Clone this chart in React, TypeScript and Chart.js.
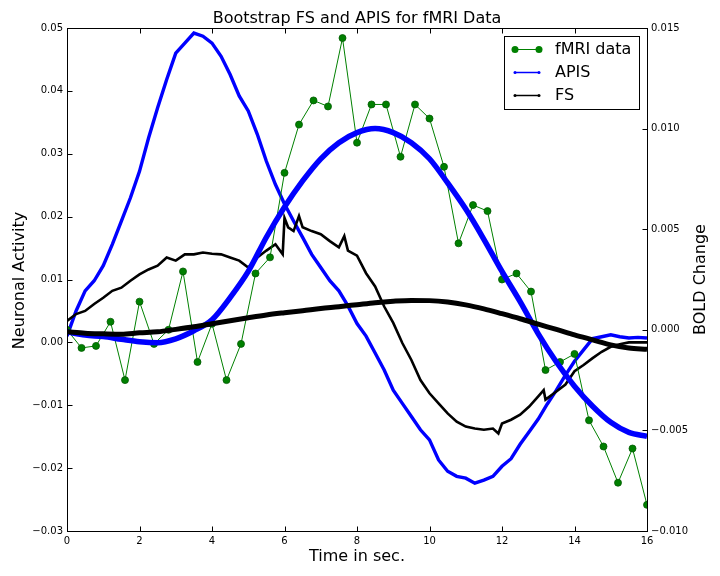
import React, { useEffect, useRef } from "react";
import { Chart, registerables } from "chart.js";

Chart.register(...registerables);

// ---- fMRI data (right axis, BOLD change) ----
const fmriTime = [0, 0.4, 0.8, 1.2, 1.6, 2.0, 2.4, 2.8, 3.2, 3.6, 4.0, 4.4, 4.8, 5.2, 5.6, 6.0, 6.4, 6.8, 7.2, 7.6, 8.0, 8.4, 8.8, 9.2, 9.6, 10.0, 10.4, 10.8, 11.2, 11.6, 12.0, 12.4, 12.8, 13.2, 13.6, 14.0, 14.4, 14.8, 15.2, 15.6, 16.0];
const fmriBold = [0.0000, -0.0009, -0.0008, 0.0004, -0.0025, 0.0014, -0.0007, 0.0000, 0.0029, -0.0016, 0.0003, -0.0025, -0.0007, 0.0028, 0.0036, 0.0078, 0.0102, 0.0114, 0.0111, 0.0145, 0.0093, 0.0112, 0.0112, 0.0086, 0.0112, 0.0105, 0.0081, 0.0043, 0.0062, 0.0059, 0.0025, 0.0028, 0.0019, -0.0020, -0.0016, -0.0012, -0.0045, -0.0058, -0.0076, -0.0059, -0.0087];

// ---- smooth fitted BOLD curves (right axis) ----
const boldTime = [0, 0.5, 1, 1.5, 2, 2.5, 3, 3.5, 4, 4.5, 5, 5.5, 6, 6.5, 7, 7.5, 8, 8.5, 9, 9.5, 10, 10.5, 11, 11.5, 12, 12.5, 13, 13.5, 14, 14.5, 15, 15.5, 16];
const apisBold = [-0.0001, -0.00026, -0.00034, -0.00047, -0.00059, -0.00064, -0.00045, -0.00005, 0.0005, 0.0016, 0.0029, 0.0046, 0.0061, 0.0074, 0.0085, 0.0093, 0.0098, 0.0100, 0.0098, 0.0093, 0.0085, 0.0073, 0.0060, 0.0045, 0.0029, 0.0014, -0.0002, -0.0016, -0.0028, -0.0038, -0.0046, -0.0051, -0.0053];
const fsBold = [-0.0001, -0.00017, -0.0002, -0.00022, -0.00015, -0.0001, 0.00002, 0.00015, 0.0003, 0.00045, 0.0006, 0.00074, 0.00085, 0.00095, 0.00106, 0.00115, 0.00125, 0.00135, 0.00142, 0.00146, 0.00145, 0.00138, 0.00124, 0.00104, 0.0008, 0.00055, 0.00028, 0.00002, -0.00025, -0.0005, -0.00075, -0.0009, -0.00097];

// ---- neuronal activity estimates (left axis) ----
const apisTime = [0, 0.25, 0.5, 0.75, 1, 1.25, 1.5, 1.75, 2, 2.25, 2.5, 2.75, 3, 3.25, 3.5, 3.75, 4, 4.25, 4.5, 4.75, 5, 5.25, 5.5, 5.75, 6, 6.25, 6.5, 6.75, 7, 7.25, 7.5, 7.75, 8, 8.25, 8.5, 8.75, 9, 9.25, 9.5, 9.75, 10, 10.25, 10.5, 10.75, 11, 11.25, 11.5, 11.75, 12, 12.25, 12.5, 12.75, 13, 13.25, 13.5, 13.75, 14, 14.25, 14.5, 14.75, 15, 15.25, 15.5, 15.75, 16];
const apisNeural = [0.001, 0.005, 0.0082, 0.0098, 0.0122, 0.0156, 0.0193, 0.023, 0.0272, 0.0325, 0.0373, 0.0418, 0.046, 0.0476, 0.0492, 0.0487, 0.0476, 0.0455, 0.0426, 0.0392, 0.0368, 0.0331, 0.0288, 0.0251, 0.022, 0.0193, 0.0167, 0.014, 0.0119, 0.0098, 0.0082, 0.0058, 0.003, 0.001, -0.0017, -0.0044, -0.0076, -0.0097, -0.0118, -0.0139, -0.0155, -0.0187, -0.0205, -0.0213, -0.0216, -0.0224, -0.0219, -0.0213, -0.0197, -0.0185, -0.0162, -0.0142, -0.0122, -0.0098, -0.0076, -0.0052, -0.003, -0.0012, 0.0006, 0.0009, 0.0012, 0.0009, 0.0007, 0.0008, 0.0007];

const fsTime = [0, 0.25, 0.5, 0.75, 1, 1.25, 1.5, 1.75, 2, 2.25, 2.5, 2.75, 3, 3.25, 3.5, 3.75, 4, 4.25, 4.5, 4.75, 5, 5.25, 5.5, 5.75, 5.95, 6.0, 6.1, 6.25, 6.4, 6.5, 6.75, 7, 7.25, 7.5, 7.65, 7.75, 8, 8.25, 8.5, 8.75, 9, 9.25, 9.5, 9.75, 10, 10.25, 10.5, 10.75, 11, 11.25, 11.5, 11.75, 11.9, 12, 12.25, 12.5, 12.75, 13, 13.15, 13.2, 13.5, 13.75, 14, 14.25, 14.5, 14.75, 15, 15.25, 15.5, 15.75, 16];
const fsNeural = [0.0034, 0.0045, 0.005, 0.0061, 0.0071, 0.0082, 0.0087, 0.0098, 0.0108, 0.0116, 0.0122, 0.0135, 0.013, 0.014, 0.014, 0.0143, 0.0141, 0.014, 0.0135, 0.013, 0.0119, 0.0135, 0.0146, 0.0156, 0.014, 0.0198, 0.0183, 0.0177, 0.0201, 0.0183, 0.0177, 0.0172, 0.0161, 0.0151, 0.0169, 0.0146, 0.0138, 0.011, 0.0089, 0.0057, 0.0031, -0.0001, -0.0028, -0.006, -0.0081, -0.0097, -0.0113, -0.0126, -0.0134, -0.0137, -0.0139, -0.0137, -0.0145, -0.0129, -0.0123, -0.0115, -0.0102, -0.0086, -0.0076, -0.0091, -0.0078, -0.0067, -0.0046, -0.0036, -0.0025, -0.0015, -0.0007, -0.0003, 0.0, 0.0, 0.0];

const xTicks = [0, 2, 4, 6, 8, 10, 12, 14, 16];

const TITLE = "Bootstrap FS and APIS for fMRI Data";
const X_LABEL = "Time in sec.";
const Y_LABEL = "Neuronal Activity";
const Y2_LABEL = "BOLD Change";
const LEGEND = ["fMRI data", "APIS", "FS"];

const FONT = '"DejaVu Sans", sans-serif';
const GREEN = "#008000";
const BLUE = "#0000ff";

const pts = (xs: number[], ys: number[]) => xs.map((x, i) => ({ x, y: ys[i] }));
const fmtNum = (v: number, d: number) => {
  const s = Math.abs(v) < 1e-12 ? (0).toFixed(d) : v.toFixed(d);
  return s.replace("-", "\u2212");
};

const decor = {
  id: "decor",
  afterDraw(chart: any) {
    const { ctx, chartArea: a, scales } = chart;
    ctx.save();
    ctx.strokeStyle = "#000";
    ctx.lineWidth = 1;
    const L = 5;
    const line = (x1: number, y1: number, x2: number, y2: number) => {
      ctx.beginPath();
      ctx.moveTo(x1, y1);
      ctx.lineTo(x2, y2);
      ctx.stroke();
    };
    const l = Math.round(a.left) + 0.5, r = Math.round(a.right) + 0.5;
    const t = Math.round(a.top) + 0.5, b = Math.round(a.bottom) + 0.5;
    ctx.strokeRect(l, t, r - l, b - t);
    scales.x.ticks.forEach((tk: any) => {
      const px = Math.round(scales.x.getPixelForValue(tk.value)) + 0.5;
      line(px, b, px, b - L);
      line(px, t, px, t + L);
    });
    scales.y.ticks.forEach((tk: any) => {
      const py = Math.round(scales.y.getPixelForValue(tk.value)) + 0.5;
      line(l, py, l + L, py);
    });
    scales.y1.ticks.forEach((tk: any) => {
      const py = Math.round(scales.y1.getPixelForValue(tk.value)) + 0.5;
      line(r, py, r - L, py);
    });

    // title and axis labels
    ctx.fillStyle = "#000";
    ctx.font = `16px ${FONT}`;
    ctx.textAlign = "center";
    ctx.textBaseline = "alphabetic";
    const cx = (a.left + a.right) / 2;
    const cy = (a.top + a.bottom) / 2;
    ctx.fillText(TITLE, cx, 22.5);
    ctx.fillText(X_LABEL, cx, 561);
    ctx.save();
    ctx.translate(24, cy + 1);
    ctx.rotate(-Math.PI / 2);
    ctx.fillText(Y_LABEL, 0, 0);
    ctx.restore();
    ctx.save();
    ctx.translate(705, cy);
    ctx.rotate(-Math.PI / 2);
    ctx.fillText(Y2_LABEL, 0, 0);
    ctx.restore();

    // legend
    const bx = 504.5, by = 36.5, bw = 135, bh = 73;
    ctx.fillStyle = "#fff";
    ctx.fillRect(bx, by, bw, bh);
    ctx.strokeStyle = "#000";
    ctx.strokeRect(bx, by, bw, bh);
    const rows = [49.5, 72.5, 95.5];
    const colors = [GREEN, BLUE, "#000"];
    const radii = [3.5, 1.5, 1.5];
    rows.forEach((ry, i) => {
      ctx.strokeStyle = colors[i];
      ctx.fillStyle = colors[i];
      ctx.lineWidth = i === 0 ? 1 : 1.5;
      line(515, ry, 539, ry);
      [515, 539].forEach((mx) => {
        ctx.beginPath();
        ctx.arc(mx, ry, radii[i], 0, Math.PI * 2);
        ctx.fill();
      });
      ctx.fillStyle = "#000";
      ctx.font = `16px ${FONT}`;
      ctx.textAlign = "left";
      ctx.textBaseline = "middle";
      ctx.fillText(LEGEND[i], 555, ry + 0.5);
    });
    ctx.restore();
  },
};

export default function App() {
  const ref = useRef<HTMLCanvasElement | null>(null);
  useEffect(() => {
    document.body.style.margin = "0";
    const canvas = ref.current;
    if (!canvas) return;
    const tickFont = { family: FONT, size: 10 };
    const chart = new Chart(canvas, {
      type: "line",
      data: {
        datasets: [
          {
            label: "FS fit",
            data: pts(boldTime, fsBold),
            yAxisID: "y1",
            borderColor: "#000",
            borderWidth: 5,
            pointRadius: 0,
            cubicInterpolationMode: "monotone",
            order: 0,
          },
          {
            label: "APIS fit",
            data: pts(boldTime, apisBold),
            yAxisID: "y1",
            borderColor: BLUE,
            borderWidth: 5.5,
            pointRadius: 0,
            cubicInterpolationMode: "monotone",
            order: 1,
          },
          {
            label: "fMRI data",
            data: pts(fmriTime, fmriBold),
            yAxisID: "y1",
            borderColor: GREEN,
            backgroundColor: GREEN,
            borderWidth: 1,
            pointRadius: 3.5,
            pointBorderColor: "#005a00",
            pointBorderWidth: 0.8,
            pointBackgroundColor: GREEN,
            tension: 0,
            order: 2,
          },
          {
            label: "FS",
            data: pts(fsTime, fsNeural),
            yAxisID: "y",
            borderColor: "#000",
            borderWidth: 2.6,
            pointRadius: 0,
            tension: 0,
            order: 3,
          },
          {
            label: "APIS",
            data: pts(apisTime, apisNeural),
            yAxisID: "y",
            borderColor: BLUE,
            borderWidth: 3.4,
            pointRadius: 0,
            tension: 0,
            order: 4,
          },
        ],
      },
      options: {
        animation: false,
        responsive: false,
        devicePixelRatio: 1,
        layout: { padding: { top: 28, left: 0, right: 0, bottom: 0 } },
        plugins: {
          legend: { display: false },
          title: { display: false },
          tooltip: { enabled: false },
        },
        scales: {
          x: {
            type: "linear",
            min: 0,
            max: 16,
            afterBuildTicks: (s: any) => {
              s.ticks = xTicks.map((v) => ({ value: v }));
            },
            afterFit: (s: any) => {
              s.height = 45;
            },
            ticks: {
              font: tickFont,
              color: "#000",
              padding: 4,
              maxRotation: 0,
              callback: (v: any) => String(v),
            },
            grid: { display: false, drawTicks: false },
            border: { display: false },
          },
          y: {
            type: "linear",
            position: "left",
            min: -0.03,
            max: 0.05,
            ticks: {
              stepSize: 0.01,
              font: tickFont,
              color: "#000",
              padding: 4,
              callback: (v: any) => fmtNum(Number(v), 2),
            },
            afterFit: (s: any) => {
              s.width = 67;
            },
            grid: { display: false, drawTicks: false },
            border: { display: false },
          },
          y1: {
            type: "linear",
            position: "right",
            min: -0.01,
            max: 0.015,
            ticks: {
              stepSize: 0.005,
              font: tickFont,
              color: "#000",
              padding: 4,
              callback: (v: any) => fmtNum(Number(v), 3),
            },
            afterFit: (s: any) => {
              s.width = 73;
            },
            grid: { display: false, drawTicks: false },
            border: { display: false },
          },
        },
      },
      plugins: [decor],
    } as any);
    return () => chart.destroy();
  }, []);
  return (
    <div style={{ position: "absolute", left: 0, top: 0, width: 720, height: 576, background: "#fff" }}>
      <canvas ref={ref} width={720} height={576} style={{ width: 720, height: 576 }} />
    </div>
  );
}
